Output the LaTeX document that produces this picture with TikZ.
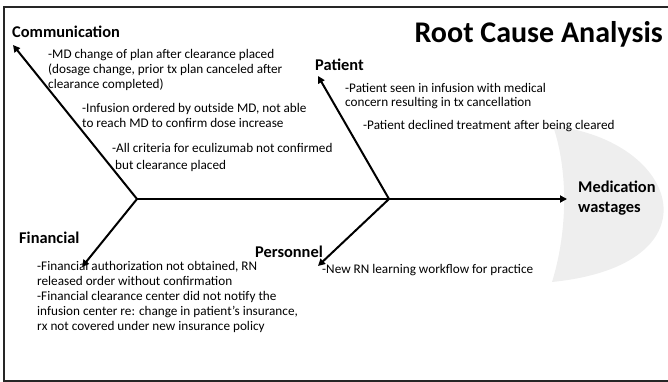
\documentclass[tikz,border=0pt]{standalone}
\usepackage{fontspec}
\setmainfont{Carlito}
\usetikzlibrary{arrows.meta}
\begin{document}
\begin{tikzpicture}[x=1pt,y=-1pt,
  bone/.style={line width=2pt,-{Triangle[width=7pt,length=7pt]}},
  body/.style={anchor=west,inner sep=0pt,align=left,font=\fontsize{13.2}{15}\selectfont},
  cat/.style={anchor=west,inner sep=0pt,font=\fontsize{16.4}{18}\selectfont\bfseries}]
\useasboundingbox (0,0) rectangle (668,382);
\begin{scope}
\clip (0,0) rectangle (668,382);
\fill[gray!13] (553,126) .. controls (680,140) and (720,265) .. (552,282)
  .. controls (568,230) and (568,170) .. (553,126);
\draw[line width=2pt,black!85] (4,7.5) rectangle (690,381);
\end{scope}
% junctions
\coordinate (jl) at (137,199);
\coordinate (jr) at (389,199);
\coordinate (head) at (567,199);
\coordinate (tcom) at (13,45);
\coordinate (tpat) at (318,76);
\coordinate (tfin) at (82,267);
\coordinate (tper) at (318,266);
\draw[line width=2pt] (jl) -- (jr);
\draw[bone] (jr) -- (head);
\draw[bone] (jl) -- (tcom);
\draw[bone] (jr) -- (tpat);
\draw[bone] (jl) -- (tfin);
\draw[bone] (jr) -- (tper);
% titles
\node[anchor=east,inner sep=0pt,font=\fontsize{30}{32}\selectfont\bfseries] (title) at (663,34) {Root Cause Analysis};
\node[cat] (com) at (12,32) {Communication};
\node[cat] (pat) at (315,65) {Patient};
\node[cat] (fin) at (19,238) {Financial};
\node[cat] (per) at (255,252) {Personnel};
\node[cat,align=left,font=\fontsize{16.4}{20}\selectfont\bfseries] (med) at (578,198) {Medication\\wastages};
% texts
\node[body] (c1) at (48,70) {-MD change of plan after clearance placed\\(dosage change, prior tx plan canceled after\\clearance completed)};
\node[body] (c2) at (82,115.5) {-Infusion ordered by outside MD, not able\\to reach MD to confirm dose increase};
\node[body,font=\fontsize{13.2}{17}\selectfont] (c3) at (112,157.5) {-All criteria for eculizumab not confirmed\\\hspace*{3pt}but clearance placed};
\node[body,font=\fontsize{13.2}{14}\selectfont] (p1) at (345,96) {-Patient seen in infusion with medical\\concern resulting in tx cancellation};
\node[body] (p2) at (363,126) {-Patient declined treatment after being cleared};
\node[body] (f1) at (37,297) {-Financial authorization not obtained, RN\\released order without confirmation\\-Financial clearance center did not notify the\\infusion center re: change in patient's insurance,\\rx not covered under new insurance policy};
\node[body] (n1) at (322,270) {-New RN learning workflow for practice};
\end{tikzpicture}
\end{document}
